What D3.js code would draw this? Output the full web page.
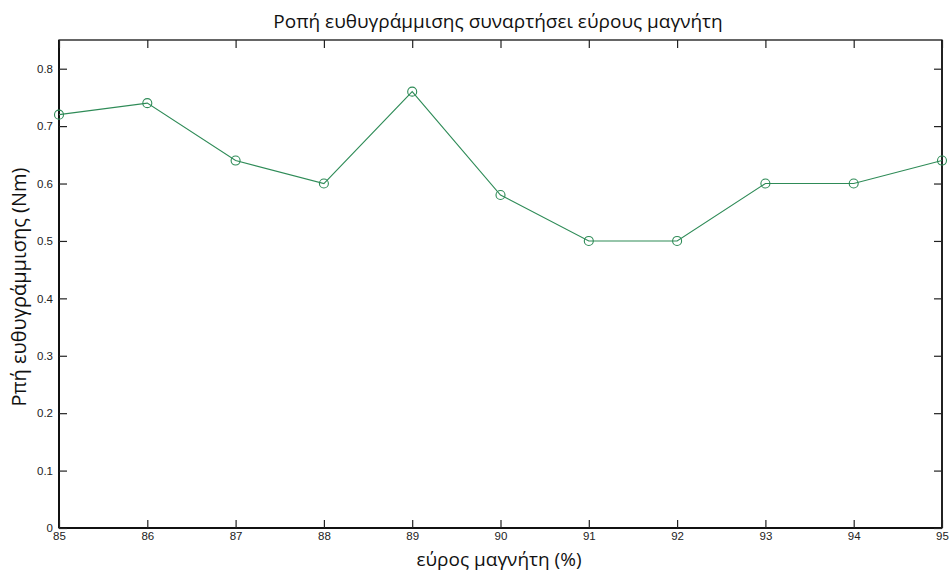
<!DOCTYPE html>
<html>
<head>
<meta charset="utf-8">
<script src="https://cdn.jsdelivr.net/npm/d3@7"></script>
<style>
  html, body { margin: 0; padding: 0; background: #fff; }
  svg { display: block; }
</style>
</head>
<body>
<svg id="chart" width="951" height="571"></svg>
<script>
// Magnet width (%) versus alignment torque (Nm)
const widths = [85, 86, 87, 88, 89, 90, 91, 92, 93, 94, 95];
const torque = [0.72, 0.74, 0.64, 0.60, 0.76, 0.58, 0.50, 0.50, 0.60, 0.60, 0.64];
const xTicks = [85, 86, 87, 88, 89, 90, 91, 92, 93, 94, 95];
const yTicks = [0, 0.1, 0.2, 0.3, 0.4, 0.5, 0.6, 0.7, 0.8];

const titleText = "Ροπή ευθυγράμμισης συναρτήσει εύρους μαγνήτη";
const xLabel = "εύρος μαγνήτη (%)";
const yLabel = "Ρπή ευθυγράμμισης (Nm)";

const svg = d3.select("#chart");
const m = { left: 59, right: 942, top: 40, bottom: 528 };

const x = d3.scaleLinear().domain([85, 95]).range([m.left, m.right]);
const y = d3.scaleLinear().domain([0, 0.85]).range([m.bottom, m.top]);

const tickFont = "'Liberation Sans', Arial, sans-serif";
const labelFont = "'Open Sans', 'Noto Sans', sans-serif";
const tickLen = 8;

// frame
svg.append("rect")
  .attr("x", m.left).attr("y", m.top)
  .attr("width", m.right - m.left).attr("height", m.bottom - m.top)
  .attr("fill", "none").attr("stroke", "#000").attr("stroke-width", 1.2);
svg.append("line").attr("x1", m.left).attr("x2", m.left).attr("y1", m.top).attr("y2", m.bottom)
  .attr("stroke", "#111").attr("stroke-width", 2);
svg.append("line").attr("x1", m.left).attr("x2", m.right).attr("y1", m.bottom).attr("y2", m.bottom)
  .attr("stroke", "#111").attr("stroke-width", 2);
svg.append("line").attr("x1", m.right).attr("x2", m.right).attr("y1", m.top).attr("y2", m.bottom)
  .attr("stroke", "#111").attr("stroke-width", 1.6);

// axes with inward ticks
const bottomAxis = d3.axisBottom(x).tickValues(xTicks).tickSize(-tickLen).tickPadding(4).tickFormat(d3.format("d"));
const topAxis = d3.axisTop(x).tickValues(xTicks).tickSize(-tickLen).tickFormat("");
const leftAxis = d3.axisLeft(y).tickValues(yTicks).tickSize(-tickLen).tickPadding(6).tickFormat(d => d === 0 ? "0" : d3.format(".1f")(d));
const rightAxis = d3.axisRight(y).tickValues(yTicks).tickSize(-tickLen).tickFormat("");

function styleAxis(g) {
  g.select(".domain").remove();
  g.selectAll(".tick line").attr("stroke", "#222").attr("stroke-width", 1.2);
  g.selectAll(".tick text").attr("fill", "#222").style("font-family", tickFont).style("font-size", "11.5px");
}

svg.append("g").attr("transform", `translate(0,${m.bottom})`).call(bottomAxis).call(styleAxis);
svg.append("g").attr("transform", `translate(0,${m.top})`).call(topAxis).call(styleAxis);
svg.append("g").attr("transform", `translate(${m.left},0)`).call(leftAxis).call(styleAxis);
svg.append("g").attr("transform", `translate(${m.right},0)`).call(rightAxis).call(styleAxis);

// series
const pts = widths.map((w, i) => ({ w, v: torque[i] }));
const color = "#2e8b57";
svg.append("path")
  .datum(pts)
  .attr("fill", "none")
  .attr("stroke", color)
  .attr("stroke-width", 1.1)
  .attr("d", d3.line().x(d => x(d.w)).y(d => y(d.v)));
svg.append("g").selectAll("circle")
  .data(pts).join("circle")
  .attr("cx", d => x(d.w)).attr("cy", d => y(d.v))
  .attr("r", 4.5)
  .attr("fill", "none").attr("stroke", color).attr("stroke-width", 1.1);

// titles
svg.append("text")
  .attr("x", 498).attr("y", 28)
  .attr("text-anchor", "middle")
  .style("font-family", labelFont).style("font-size", "19px").attr("fill", "#111")
  .text(titleText);
svg.append("text")
  .attr("x", 499).attr("y", 566)
  .attr("text-anchor", "middle")
  .style("font-family", labelFont).style("font-size", "19px").attr("fill", "#111")
  .text(xLabel);
svg.append("text")
  .attr("transform", `translate(26,287) rotate(-90)`)
  .attr("text-anchor", "middle")
  .style("font-family", labelFont).style("font-size", "20px").attr("fill", "#111")
  .text(yLabel);
</script>
</body>
</html>
